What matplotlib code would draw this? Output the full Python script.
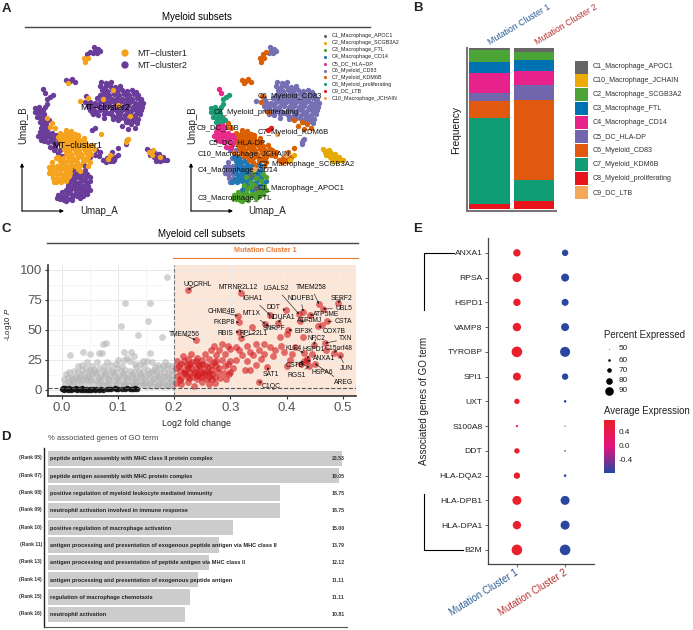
import numpy as np
import matplotlib
matplotlib.use('Agg')
import matplotlib.pyplot as plt
from matplotlib.colors import LinearSegmentedColormap

plt.rcParams['font.family'] = ['Liberation Sans', 'DejaVu Sans']
plt.rcParams['mathtext.fontset'] = 'custom'
plt.rcParams['mathtext.it'] = 'Liberation Sans:italic'

# ---- panel A: umap cells (umap_a, umap_b), per subset and mutation cluster
c6_m2 = [(101,82),(106,83),(111,82),(100,86),(105,87),(110,86),(115,87),(120,86),(102,90),(107,91),(112,90),(117,91),
         (122,90),(127,91),(132,90),(104,94),(109,95),(114,94),(119,95),(124,94),(129,95),(134,94),(138,95),(97,98),
         (102,99),(107,98),(112,99),(117,98),(122,99),(127,98),(132,99),(137,98),(141,99),(90,102),(95,103),(100,102),
         (105,103),(110,102),(115,103),(120,102),(125,103),(130,102),(135,103),(140,102),(143,103),(88,106),(93,107),
         (98,106),(103,107),(108,106),(113,107),(118,106),(123,107),(128,106),(133,107),(138,106),(142,107),(90,110),
         (95,111),(100,110),(105,111),(112,110),(117,111),(122,110),(127,111),(132,110),(137,111),(141,110),(93,114),
         (98,115),(104,114),(112,115),(120,114),(125,115),(130,114),(135,115),(140,114),(104,118),(113,119),(124,118),
         (129,119),(134,118),(138,119),(95,50),(98,49),(97,53),(100,51),(93,53),(127,140),(126,144),(54,150),(60,150),
         (108,84),(118,89),(125,93),(136,92),(100,95),(105,101),(116,101),(127,101),(92,105),(103,109),(115,109),(125,109),
         (135,109),(96,113),(108,113),(118,113),(128,113),(138,113),(116,117),(120,118),(127,122),(133,121),(137,123),(94,47)]
c6_m1 = [(113,90),(118,105),(103,99),(130,116),(80,101),(88,98),(126,142),(128,139),(52,162),(56,158),
         (52,166),(57,166),(50,170),(55,170),(52,174),(57,174),(53,178),(57,179),(49,167),(49,173),(54,182)]
c7_m2 = [(118,120),(122,126),(128,129),(135,128),(131,124),(126,122),(85,102),(92,112),(86,96),(87,54),(90,52),
         (70,81),(75,82),(66,80),(55,146),(58,153),(62,156),(90,157),(95,155),(96,150),(100,152),(103,160),(107,158),
         (111,158),(115,157),(106,162),(110,161),(112,152),(118,148),(72,79),(99,156),(113,161)]
c7_m1 = [(88,58),(85,62),(84,58),(68,83),(66,130),(71,131),(60,133),(65,134),(70,133),(75,134),(58,137),(63,138),(68,137),
         (73,138),(78,137),(60,141),(65,142),(70,141),(75,142),(80,141),(85,142),(62,145),(67,146),(72,145),(77,146),
         (82,145),(87,146),(92,145),(64,149),(69,150),(74,149),(79,150),(84,149),(89,150),(94,149),(66,153),(71,154),
         (76,153),(81,154),(86,153),(91,154),(68,157),(73,158),(78,157),(83,158),(88,157),(72,161),(77,162),(83,161),
         (90,162),(80,165),(88,166),(52,123),(47,118),(55,128),(50,127),(78,135),(84,138),(108,159),
         (63,135),(72,136),(66,140),(77,140),(70,144),(80,144),(73,148),(84,147),(76,151),(88,152),(70,156),(81,156),
         (75,160),(86,160)]
c5_m2 = [(40,132),(44,131),(48,133),(52,133),(38,136),(42,136),(46,137),(50,137),(54,138),(58,138),(44,141),(48,142),
         (53,142),(57,143),(50,147),(42,124),(46,124),(48,128),(44,128),(43,89),(45,93),(41,128),(46,134),(51,140),
         (56,135),(41,140),(55,148)]
c8_m2 = [(35,108),(39,107),(43,110),(35,112),(39,113),(44,114),(37,117),(41,118),(46,118),(40,122),(49,120),(50,97),
         (53,95),(47,99),(47,104),(45,107),(41,110),(37,110),(43,116),(45,121)]
c4_m1 = [(58,157),(63,158),(60,161),(64,162),(68,161),(61,165),(66,166),(71,165),(60,169),(65,170),(70,169),(60,173),
         (65,174),(70,173),(62,177),(67,178),(56,182),(61,182),(66,181),(75,166),(80,171),(63,168),(68,172),(63,175),
         (59,179),(64,180),(69,176)]
c4_m2 = [(74,169),(79,170),(72,173),(82,174),(75,178),(85,178),(70,182),(80,182),(90,181),(73,186),(83,186),(66,190),
         (76,190),(86,190),(84,165),(85,170),(78,176),(72,180),(83,180),(76,184),(87,184),(68,187)]
c3_m2 = [(77,173),(87,174),(70,177),(80,178),(90,177),(75,182),(85,181),(68,185),(78,185),(88,186),(71,189),(81,189),
         (90,190),(70,193),(75,194),(80,193),(87,194),(72,197),(80,198),(58,195),(62,192),(66,195),(60,199),(64,200),
         (68,199),(72,200),(69,193),(74,187),(84,191),(77,196),(83,196),(62,197),(66,201),(57,198)]
c2_m2 = [(147,149),(151,151),(155,153),(159,154),(163,157),(167,160),(150,155),(154,157),(158,158),(162,160),(156,161),
         (118,155),(114,160),(165,160),(160,161)]
c2_m1 = [(149,152),(153,150),(152,155),(160,157)]
c1_m2 = [(75,175),(80,188)]
c9_m2 = [(92,130),(95,128)]
c10_m1 = [(101,134),(78,169),(110,155)]

umap_cells = [('C6',2,c6_m2),('C6',1,c6_m1),('C7',2,c7_m2),('C7',1,c7_m1),('C5',2,c5_m2),('C8',2,c8_m2),
              ('C4',1,c4_m1),('C4',2,c4_m2),('C3',2,c3_m2),('C2',2,c2_m2),('C2',1,c2_m1),('C1',2,c1_m2),
              ('C9',2,c9_m2),('C10',1,c10_m1)]
mt_colors = {1: '#f5a31c', 2: '#6a3d9a'}
subset_colors = {'C1':'#666666','C2':'#e6ab02','C3':'#4da32d','C4':'#1f78b4','C5':'#e7298a','C6':'#7570b3',
                 'C7':'#d95f02','C8':'#1b9e77','C9':'#e41a1c','C10':'#f4a65a'}
subset_names = ['C1_Macrophage_APOC1','C2_Macrophage_SCGB3A2','C3_Macrophage_FTL','C4_Macrophage_CD14','C5_DC_HLA−DP',
                'C6_Myeloid_CD83','C7_Myeloid_KDM6B','C8_Myeloid_proliferating','C9_DC_LTB','C10_Macrophage_JCHAIN']
subset_keys = ['C1','C2','C3','C4','C5','C6','C7','C8','C9','C10']
map_labels = [('C6_Myeloid_CD83',258,97),('C8_Myeloid_proliferating',214,113),('C9_DC_LTB',197,128),
              ('C7_Myeloid_KDM6B',258,133),('C5_DC_HLA-DP',209,143),('C10_Macrophage_JCHAIN',198,154),
              ('C2_Macrophage_SCGB3A2',259,165),('C4_Macrophage_CD14',198,170),('C1_Macrophage_APOC1',258,188),
              ('C3_Macrophage_FTL',198,198)]

# ---- panel B
freq_groups = ['Mutation Cluster 1','Mutation Cluster 2']
freq_mc1 = [1.4,7.5,6.4,12.4,5.2,10.4,53.4,3.3]
freq_mc2 = [2.3,5.4,6.8,8.3,9.7,49.3,13.5,4.8]
bar_colors = ['#666666','#4aa536','#0072b2','#e7228a','#7166ae','#e0590f','#0f9d75','#e8141c']
legend_b = ['C1_Macrophage_APOC1','C10_Macrophage_JCHAIN','C2_Macrophage_SCGB3A2','C3_Macrophage_FTL',
            'C4_Macrophage_CD14','C5_DC_HLA-DP','C6_Myeloid_CD83','C7_Myeloid_KDM6B','C8_Myeloid_proliferating','C9_DC_LTB']
legend_b_colors = ['#666666','#eeaa00','#4aa536','#0072b2','#e7228a','#7166ae','#e0590f','#0f9d75','#e8141c','#f5a85a']

# ---- panel C
gray_pts = [(.187,93.6),(.113,72),(.158,72),(.153,57),(.105,53),(.135,46),(.178,44),(.079,39.5),(.073,38),(.111,32),
            (.039,32),(.05,30),(.066,31),(.072,30.5),(.015,29),(.157,31),(.124,32),(.128,28),(.117,27),(.111,25),
            (.046,23.6),(.063,23),(.088,21),(.097,22),(.121,24),(.14,22),(.152,24),(.161,23),(.171,21),(.183,23),
            (.19,21),(.196,20),(.03,20),(.037,21),(.055,20),(.075,20),(.107,20),(.133,19),(.146,20),(.166,19),
            (.176,18),(.188,18),(.196,16),(.008,13),(.014,15),(.022,16),(.029,15),(.036,17),(.043,18),(.05,17),
            (.058,17),(.066,18),(.074,16),(.082,17),(.09,16),(.098,18),(.105,16),(.113,17),(.122,16),(.129,15),
            (.137,16),(.145,15),(.153,17),(.16,15),(.168,15),(.175,14),(.182,15),(.19,14),(.197,13),(.004,9),
            (.011,10),(.018,11),(.025,11),(.033,12),(.04,13),(.047,12),(.055,13),(.062,13),(.07,12),(.078,12),
            (.086,12),(.094,13),(.102,12),(.11,12),(.118,12),(.126,11),(.134,11),(.142,11),(.15,12),(.158,11),
            (.166,10),(.174,10),(.182,11),(.19,10),(.197,9),(.013,7),(.021,7),(.029,8),(.037,8),(.045,8),(.053,8),
            (.061,8),(.069,8),(.077,7),(.085,8),(.093,8),(.101,8),(.109,7),(.117,8),(.125,7),(.133,7),(.141,7),
            (.149,7),(.157,7),(.165,6),(.173,6),(.181,6),(.189,6),(.197,5),(.071,4),(.079,4),(.09,4),(.1,4),
            (.11,4),(.12,4),(.13,4),(.14,4),(.15,3),(.16,3),(.17,3),(.18,3),(.19,3),(.197,3),
            (.007,5),(.017,5),(.027,5),(.037,5),(.047,5),(.057,5),(.067,5),(.082,5),(.097,5),(.113,5),(.128,5),(.145,5),
            (.155,5),(.172,4),(.188,4),(.02,9),(.031,10),(.042,10),(.051,10),(.066,10),(.082,10),(.098,10),(.114,10),
            (.13,9),(.146,9),(.162,9),(.178,8),(.194,8),(.048,15),(.062,15),(.078,14),(.094,15),(.11,14),(.125,13),
            (.14,13),(.156,14),(.172,12),(.186,12),(.08,23),(.1,25),(.13,22),(.145,24),(.165,17),(.18,20)]
black_pts = [(.0,.5),(.002,1.5),(.005,.3),(.007,1.7),(.01,.6),(.013,1.4),(.016,.4),(.019,1.2),(.022,.5),(.025,1.6),
             (.028,.3),(.031,1),(.034,.4),(.037,1.5),(.04,.4),(.043,1),(.046,.3),(.05,1.2),(.053,.4),(.056,.9),
             (.059,.3),(.062,.8),(.066,.3),(.07,.7),(.074,.3),(.088,1),(.095,1.4),(.1,.8),(.097,.5),(.112,.8),
             (.116,1.4),(.121,.6),(.128,.8),(.131,1.6),(.134,.5),(.003,.8),(.012,.2),(.024,.9),(.036,.9),(.048,.4),
             (.08,.5),(.084,.9),(.107,.6),(.125,1)]
red_pts = [(.224,83.3),(.318,81),(.457,71.6),(.491,72.2),(.464,67.5),(.429,65.2),(.441,62.5),(.422,63),(.398,66.6),
           (.37,62.5),(.424,57),(.472,57),(.456,53),(.463,54),(.313,61.6),(.315,56.4),(.338,52),(.362,55),(.315,48.6),
           (.318,43.6),(.403,50),(.4,46.6),(.388,43.8),(.428,43.8),(.448,37.5),(.468,39),(.484,31),(.494,29),(.43,31),
           (.436,26),(.436,24),(.43,24),(.44,20),(.425,22),(.45,22),(.365,19),(.35,7),(.238,41.6),(.385,56),
           (.27,37),(.285,38),(.295,37),(.31,36),(.33,37),(.345,38),(.36,38),(.37,36),(.35,33),(.335,32),(.315,33),
           (.3,34),(.28,33),(.265,33),(.255,30),(.275,29),(.29,30),(.32,29),(.34,29),(.36,30),(.38,33),(.39,37),
           (.395,32),(.41,30),(.375,28),(.355,26),(.33,24),(.31,25),(.3,24),(.405,25),(.345,21),(.215,28),(.225,26),
           (.24,27),(.25,25),(.262,26),(.275,24),(.285,25),(.205,24),(.213,22),(.222,21),(.232,23),(.243,22),
           (.255,21),(.265,21),(.275,20),(.29,20),(.305,18),(.325,17),(.335,17),(.203,18),(.21,16),(.22,17),
           (.228,15),(.238,18),(.248,17),(.258,16),(.268,17),(.278,15),(.288,14),(.298,13),(.205,12),(.213,10),
           (.222,12),(.232,11),(.242,13),(.252,12),(.262,11),(.272,11),(.282,10),(.292,9),(.203,6),(.212,5),
           (.225,7),(.235,3),(.25,7),(.262,5),(.24,9),(.272,6),(.225,19),(.245,20),(.217,14),(.235,14),(.255,14),
           (.268,13),(.23,30),(.3,15),(.4,20),(.47,33),(.415,36),(.445,30),
           (.208,20),(.218,24),(.228,22),(.238,24),(.25,22),(.26,19),(.27,23),(.226,10),(.238,15),(.248,11),(.258,9),
           (.268,9),(.21,8),(.22,14),(.23,18),(.24,12),(.25,15),(.262,14),(.28,18),(.295,22)]
volcano_labels = [('UQCRHL',.242,87.5,.224,83.3),('MTRNR2L12',.314,85.2,.318,81),('LGALS2',.382,84.4,.422,63),
                  ('TMEM258',.444,85,.457,71.6),('NDUFB1',.425,76.4,.429,65.2),('SERF2',.497,76.4,.491,72.2),
                  ('IGHA1',.34,75.8,.37,62.5),('DDT',.376,68.6,.398,66.6),('UBL5',.501,67.7,.464,67.5),
                  ('CHMP4B',.285,65,.313,61.6),('MT1X',.337,63.3,.362,55),('ATP5ME',.47,62.5,.441,62.5),
                  ('NDUFA1',.392,60,.385,56),('ATP5MJ',.441,57.8,.424,57),('CSTA',.501,56.6,.472,57),
                  ('FKBP8',.288,56.4,.315,56.4),('SNRPF',.378,51,.362,55),('EIF3K',.431,49,.403,50),
                  ('COX7B',.484,49,.456,53),('RBIS',.291,47.2,.315,48.6),('RPL22L1',.341,47.2,.318,43.6),
                  ('TMEM256',.218,45.8,.238,41.6),('NPC2',.452,42.7,.448,37.5),('TXN',.505,42.5,.468,39),
                  ('C15orf48',.492,34.4,.484,31),('KLF4',.413,34.7,.43,31),('HSPD1',.448,33.6,.436,26),
                  ('ANXA1',.466,26.4,.436,24),('CSTB',.414,20.3,.43,24),('JUN',.506,17.5,.494,29),
                  ('RGS1',.418,12,.44,20),('HSPA6',.463,14.7,.425,22),('AREG',.5,6,.45,22),
                  ('SAT1',.372,12.8,.365,19),('C1QC',.372,2.5,.35,7)]

# ---- panel D
go_ranks = ['(Rank 05)','(Rank 07)','(Rank 08)','(Rank 09)','(Rank 10)','(Rank 11)','(Rank 13)','(Rank 14)','(Rank 15)','(Rank 16)']
go_terms = ['peptide antigen assembly with MHC class II protein complex','peptide antigen assembly with MHC protein complex',
            'positive regulation of myeloid leukocyte mediated immunity','neutrophil activation involved in immune response',
            'positive regulation of macrophage activation',
            'antigen processing and presentation of exogenous peptide antigen via MHC class II',
            'antigen processing and presentation of peptide antigen via MHC class II',
            'antigen processing and presentation of exogenous peptide antigen','regulation of macrophage chemotaxis',
            'neutrophil activation']
go_pct = ['23.53','19.05','18.75','18.75','15.00','13.79','12.12','11.11','11.11','10.81']
go_bar_len = [23.53,23.3,18.56,18.56,14.85,13.66,12.88,12.0,11.37,10.97]

# ---- panel E
genes = ['ANXA1','RPSA','HSPD1','VAMP8','TYROBP','SPI1','UXT','S100A8','DDT','HLA-DQA2','HLA-DPB1','HLA-DPA1','B2M']
pct_mc1 = [84,92,84,89,100,87,74,58,74,79,92,89,100]
pct_mc2 = [79,87,82,87,97,79,60,53,55,60,92,92,100]
avg_mc1 = [.707]*len(genes)
avg_mc2 = [-.707]*len(genes)
pct_legend = [50,60,70,80,90]
expr_ticks = [0.4,0.0,-0.4]

W, H = 693, 630
fig = plt.figure(figsize=(W/100, H/100), dpi=100)

def px_axes(x0, y0, x1, y1):
    return fig.add_axes([x0/W, 1-y1/H, (x1-x0)/W, (y1-y0)/H])

# overlay in pixels for titles, lines, legends
top = fig.add_axes([0, 0, 1, 1], zorder=10)
top.set_xlim(0, W); top.set_ylim(H, 0); top.axis('off')

def letter(s, x, y):
    top.text(x, y, s, fontsize=9.5, fontweight='bold', ha='center', va='center', color='#222222')

letter('A', 6, 9); letter('B', 418, 8); letter('C', 6, 229); letter('D', 6, 437); letter('E', 418, 229)

# A
top.text(197, 17, 'Myeloid subsets', fontsize=7, ha='center', va='center')
top.plot([25, 370], [27, 27], color='#444444', lw=1)
ax = px_axes(0, 30, 176, 220)
ax.set_xlim(0, 176); ax.set_ylim(220, 30); ax.axis('off')
for mt in [2, 1]:
    for name, m, pts in umap_cells:
        if m == mt:
            arr = np.array(pts)
            ax.scatter(arr[:, 0], arr[:, 1], s=15, color=mt_colors[mt], lw=0)
ax2 = px_axes(176, 30, 352, 220)
ax2.set_xlim(0, 176); ax2.set_ylim(220, 30); ax2.axis('off')
for name, m, pts in umap_cells:
    arr = np.array(pts)
    ax2.scatter(arr[:, 0], arr[:, 1], s=15, color=subset_colors[name], lw=0)

top.scatter([125, 125], [53, 65], s=28, color=[mt_colors[1], mt_colors[2]], lw=0)
top.text(137, 53, 'MT−cluster1', fontsize=6.5, va='center', color='#222222')
top.text(137, 65, 'MT−cluster2', fontsize=6.5, va='center', color='#222222')
top.text(105, 107, 'MT−cluster2', fontsize=6.5, ha='center', va='center')
top.text(77, 145, 'MT−cluster1', fontsize=6.5, ha='center', va='center')
for x0, xa, lab_x in [(22, 64, 99), (191, 233, 267)]:
    top.annotate('', xy=(x0, 163), xytext=(x0, 211), arrowprops=dict(arrowstyle='-|>', lw=.8, color='k', mutation_scale=5, shrinkA=0, shrinkB=0))
    top.annotate('', xy=(xa, 211), xytext=(x0, 211), arrowprops=dict(arrowstyle='-|>', lw=.8, color='k', mutation_scale=5, shrinkA=0, shrinkB=0))
    top.text(lab_x, 211, 'Umap_A', fontsize=7, ha='center', va='center', color='#222222')
    top.text(x0+1, 125, 'Umap_B', fontsize=7, ha='center', va='center', rotation=90, color='#222222')
for i, (nm, key) in enumerate(zip(subset_names, subset_keys)):
    yy = 36 + i*6.9
    top.scatter([325], [yy], s=5, color=subset_colors[key], lw=0)
    top.text(332, yy, nm, fontsize=3.9, va='center', color='#222222')
for nm, x, y in map_labels:
    top.text(x, y, nm, fontsize=5.5, va='center', color='#111111')

# B
ax = px_axes(467, 48, 556, 211)
bot1, bot2 = 100.0, 100.0
for f1, f2, c in zip(freq_mc1, freq_mc2, bar_colors):
    ax.bar(0, f1, bottom=bot1-f1, width=.92, color=c, lw=0)
    ax.bar(1, f2, bottom=bot2-f2, width=.9, color=c, lw=0)
    bot1 -= f1; bot2 -= f2
ax.set_xlim(-.5, 1.5); ax.set_ylim(-1.2, 100)
ax.set_xticks([]); ax.set_yticks([])
for s in ['top', 'right']:
    ax.spines[s].set_visible(False)
for s in ['left', 'bottom']:
    ax.spines[s].set_color('#777777'); ax.spines[s].set_linewidth(1.5)
top.text(489, 43, freq_groups[0], fontsize=6.3, rotation=31, rotation_mode='anchor', ha='left', va='center', color='#2b5c94')
top.text(536, 43, freq_groups[1], fontsize=6.3, rotation=31, rotation_mode='anchor', ha='left', va='center', color='#b5302f')
top.text(456, 130, 'Frequency', fontsize=7.3, rotation=90, ha='center', va='center', color='#111111')
for i, (nm, c) in enumerate(zip(legend_b, legend_b_colors)):
    yy = 67 + i*13.95
    top.fill_between([575, 588], yy-6.5, yy+6.5, color=c, lw=0)
    top.text(593, yy, nm, fontsize=5.1, va='center', color='#333333')

# C
top.text(202, 234, 'Myeloid cell subsets', fontsize=7, ha='center', va='center')
top.plot([47, 358], [243, 243], color='#444444', lw=1)
top.text(265, 251, 'Mutation Cluster 1', fontsize=5.1, fontweight='bold', color='#e87a35', ha='center', va='center')
top.plot([173, 358], [258, 258], color='#e87a35', lw=.8)
ax = px_axes(48, 265, 356, 396)
ax.set_xlim(-.0240, .523); ax.set_ylim(-5, 104)
ax.axvspan(.2, .523, color='#fce6d8', lw=0, zorder=0)
ax.set_xticks([0, .1, .2, .3, .4, .5])
ax.set_xticks([.05, .15, .25, .35, .45], minor=True)
ax.set_yticks([0, 25, 50, 75, 100])
ax.set_yticks([12.5, 37.5, 62.5, 87.5], minor=True)
ax.grid(True, which='major', color='#e9e9e9', lw=.7, zorder=1)
ax.grid(True, which='minor', color='#f0f0f0', lw=.4, zorder=1)
ax.set_axisbelow(True)
g = np.array(gray_pts); b = np.array(black_pts); r = np.array(red_pts)
ax.scatter(g[:, 0], g[:, 1], s=24, color='#b5b5b5', alpha=.6, lw=0, zorder=2)
ax.scatter(b[:, 0], b[:, 1], s=16, color='#111111', alpha=.9, lw=0, zorder=3)
ax.scatter(r[:, 0], r[:, 1], s=24, color='#d2161a', alpha=.6, lw=0, zorder=3)
ax.axvline(.2, color='#777777', ls='--', lw=.8, zorder=4)
ax.axhline(2, color='#555555', ls='--', lw=.8, zorder=4)
for nm, tx, ty, px, py in volcano_labels:
    ax.annotate(nm, xy=(px, py), xytext=(tx, ty), fontsize=4.9, ha='center', va='center', zorder=6, color='#111111',
                arrowprops=dict(arrowstyle='-|>', lw=.45, color='#222222', mutation_scale=3, shrinkA=0, shrinkB=0))
for s in ['top', 'right']:
    ax.spines[s].set_visible(False)
for s in ['left', 'bottom']:
    ax.spines[s].set_color('#333333'); ax.spines[s].set_linewidth(1.2)
ax.tick_params(which='major', labelsize=9.5, labelcolor='#555555', length=2.5, color='#333333', pad=2)
ax.tick_params(which='minor', length=0)
top.text(197, 423, 'Log2 fold change', fontsize=6.4, ha='center', va='center', color='#222222')
top.text(8, 324, '-Log10 $\\mathit{P}$', fontsize=5.6, rotation=90, ha='center', va='center', color='#222222')

# D
top.text(48, 439, '% associated genes of GO term', fontsize=5.6, va='center', color='#444444')
ax = px_axes(44, 448, 347, 627)
rows = np.arange(len(go_terms))
ax.barh(rows, go_bar_len, height=.885, left=0, color='#cccccc', lw=0)
ax.set_ylim(9.72, -.6)
ax.set_xlim(-4/12.66, 303/12.66)
ax.set_xticks([]); ax.set_yticks([])
for s in ['top', 'right']:
    ax.spines[s].set_visible(False)
ax.spines['left'].set_linewidth(1); ax.spines['bottom'].set_linewidth(.8)
ax.spines['left'].set_color('#222222'); ax.spines['bottom'].set_color('#555555')
for i, (rk, tm, pc) in enumerate(zip(go_ranks, go_terms, go_pct)):
    yy = 458.7 + i*17.33
    top.text(42, yy-1, rk, fontsize=3.6, fontweight='bold', ha='right', va='center', color='#333333')
    top.text(50, yy, tm, fontsize=4.1, fontweight='bold', va='center', color='#222222')
    top.text(345, yy, pc, fontsize=3.7, fontweight='bold', ha='right', va='center', color='#333333')

# E
cmap = LinearSegmentedColormap.from_list('expr', ['#2448a0', '#e4127f', '#ea1f28'])
def pct_size(p):
    return (.72*(.6+(np.asarray(p, float)-50)*.2))**2
ax = px_axes(488, 238, 594, 564)
ypos = np.arange(len(genes))
ax.scatter(np.zeros(len(genes)), ypos, s=pct_size(pct_mc1), c=avg_mc1, cmap=cmap, vmin=-.73, vmax=.73, lw=0)
ax.scatter(np.ones(len(genes)), ypos, s=pct_size(pct_mc2), c=avg_mc2, cmap=cmap, vmin=-.73, vmax=.73, lw=0)
ax.set_xlim(-.6, 1.6); ax.set_ylim(12.57, -.6)
ax.set_yticks(ypos); ax.set_yticklabels(genes, fontsize=6.1, color='#222222')
ax.set_xticks([0, 1]); ax.set_xticklabels(['', ''])
ax.tick_params(length=2, width=.6, pad=2, color='#444444')
for s in ['top', 'right']:
    ax.spines[s].set_visible(False)
for s in ['left', 'bottom']:
    ax.spines[s].set_color('#444444'); ax.spines[s].set_linewidth(.9)
top.text(517, 572, freq_groups[0], fontsize=7, rotation=32, rotation_mode='anchor', ha='right', va='center', color='#2b5c94')
top.text(566, 572, freq_groups[1], fontsize=7, rotation=32, rotation_mode='anchor', ha='right', va='center', color='#b5302f')
top.text(424, 401, 'Associated genes of GO term', fontsize=7, rotation=90, ha='center', va='center', color='#222222')
top.plot([454, 424, 424], [253, 253, 310], color='k', lw=.8)
top.plot([424, 424, 463], [494, 550, 550], color='k', lw=.8)
top.text(604, 335, 'Percent Expressed', fontsize=6.9, va='center', color='#222222')
for p, yy in zip(pct_legend, [349, 360, 370, 381, 391]):
    top.scatter([609], [yy], s=pct_size(p), color='k', lw=0)
    top.text(619, yy, str(p), fontsize=5.9, va='center', color='#222222')
top.text(604, 411, 'Average Expression', fontsize=6.9, va='center', color='#222222')
cb = px_axes(604, 420, 615, 473)
grad = np.linspace(.73, -.73, 200).reshape(-1, 1)
cb.imshow(grad, cmap=cmap, vmin=-.73, vmax=.73, aspect='auto', extent=[0, 1, -.73, .73])
cb.set_xticks([]); cb.set_yticks([])
for s in cb.spines.values():
    s.set_visible(False)
for v, yy in zip(expr_ticks, [432, 447, 461]):
    top.text(619, yy, f'{v:.1f}', fontsize=5.9, va='center', color='#222222')

fig.savefig('out.png', dpi=100)
